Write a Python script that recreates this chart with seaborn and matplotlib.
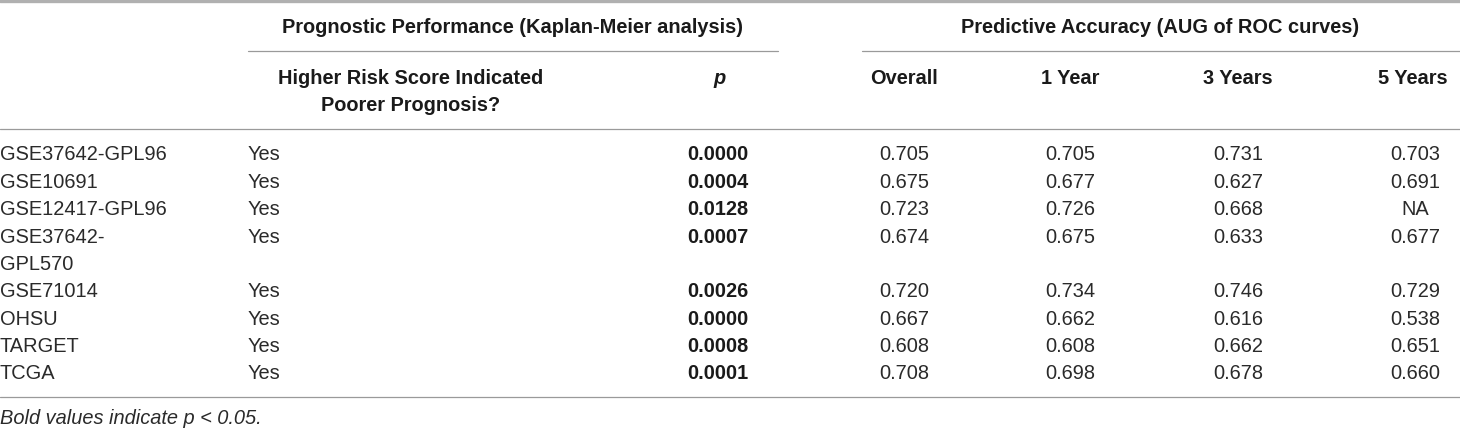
import matplotlib
matplotlib.use("Agg")
import matplotlib.pyplot as plt
import seaborn as sns

# ---------------- data ----------------
datasets = ["GSE37642-GPL96", "GSE10691", "GSE12417-GPL96", "GSE37642-GPL570",
            "GSE71014", "OHSU", "TARGET", "TCGA"]
poorer_prognosis = ["Yes", "Yes", "Yes", "Yes", "Yes", "Yes", "Yes", "Yes"]
p_values = ["0.0000", "0.0004", "0.0128", "0.0007", "0.0026", "0.0000", "0.0008", "0.0001"]
auc_overall = ["0.705", "0.675", "0.723", "0.674", "0.720", "0.667", "0.608", "0.708"]
auc_1year = ["0.705", "0.677", "0.726", "0.675", "0.734", "0.662", "0.608", "0.698"]
auc_3years = ["0.731", "0.627", "0.668", "0.633", "0.746", "0.616", "0.662", "0.678"]
auc_5years = ["0.703", "0.691", "NA", "0.677", "0.729", "0.538", "0.651", "0.660"]

group_headers = ["Prognostic Performance (Kaplan-Meier analysis)",
                 "Predictive Accuracy (AUG of ROC curves)"]
col_headers = ["Higher Risk Score Indicated\nPoorer Prognosis?", "p",
               "Overall", "1 Year", "3 Years", "5 Years"]
footnote = "Bold values indicate p < 0.05."

# ---------------- layout ----------------
W, H = 1460, 428
sns.set_theme(style="white")
plt.rcParams["font.family"] = ["Liberation Sans", "DejaVu Sans"]

fig = plt.figure(figsize=(W / 100, H / 100), dpi=100)
ax = fig.add_axes([0, 0, 1, 1])
ax.set_xlim(0, W)
ax.set_ylim(H, 0)
ax.axis("off")

FS = 14.4
txt_col = "#1a1a1a"
val_col = "#2a2a2a"
rule_col = "#9a9a9a"

# rules
ax.axhline(1.2, color="#b0b0b0", lw=2.4)
ax.plot([248, 778], [51, 51], color=rule_col, lw=0.9)
ax.plot([862, W], [51, 51], color=rule_col, lw=0.9)
ax.axhline(128.5, color=rule_col, lw=0.9)
ax.axhline(396.5, color=rule_col, lw=0.9)

# group headers
ax.text(512, 27, group_headers[0], ha="center", va="center", fontsize=FS,
        fontweight="bold", color=txt_col)
ax.text(1160, 27, group_headers[1], ha="center", va="center", fontsize=FS,
        fontweight="bold", color=txt_col)

# column headers
hdr_x = [411, 720, 904, 1070, 1238, 1413]
for i, (h, x) in enumerate(zip(col_headers, hdr_x)):
    lines = h.split("\n")
    for j, ln in enumerate(lines):
        style = "italic" if h == "p" else "normal"
        ax.text(x, 78 + 27 * j, ln, ha="center", va="center", fontsize=FS,
                fontweight="bold", style=style, color=txt_col)

# body
line_h = 27.35
y0 = 155
line = 0
val_cols = [auc_overall, auc_1year, auc_3years, auc_5years]
val_x = [904, 1070, 1238, 1415]
for i, name in enumerate(datasets):
    y = y0 + line * line_h
    if len(name) > 14 and "-" in name:
        a, b = name.split("-", 1)
        label_lines = [a + "-", b]
    else:
        label_lines = [name]
    for j, ln in enumerate(label_lines):
        ax.text(0, y + j * line_h, ln, ha="left", va="center", fontsize=FS, color=val_col)
    ax.text(248, y, poorer_prognosis[i], ha="left", va="center", fontsize=FS, color=val_col)
    ax.text(748, y, p_values[i], ha="right", va="center", fontsize=FS,
            fontweight="bold", color=txt_col)
    for col, x in zip(val_cols, val_x):
        ax.text(x, y, col[i], ha="center", va="center", fontsize=FS, color=val_col)
    line += len(label_lines)

ax.text(0, 419, footnote, ha="left", va="center", fontsize=FS, style="italic", color=val_col)

fig.savefig("out.png", dpi=100, facecolor="white")
